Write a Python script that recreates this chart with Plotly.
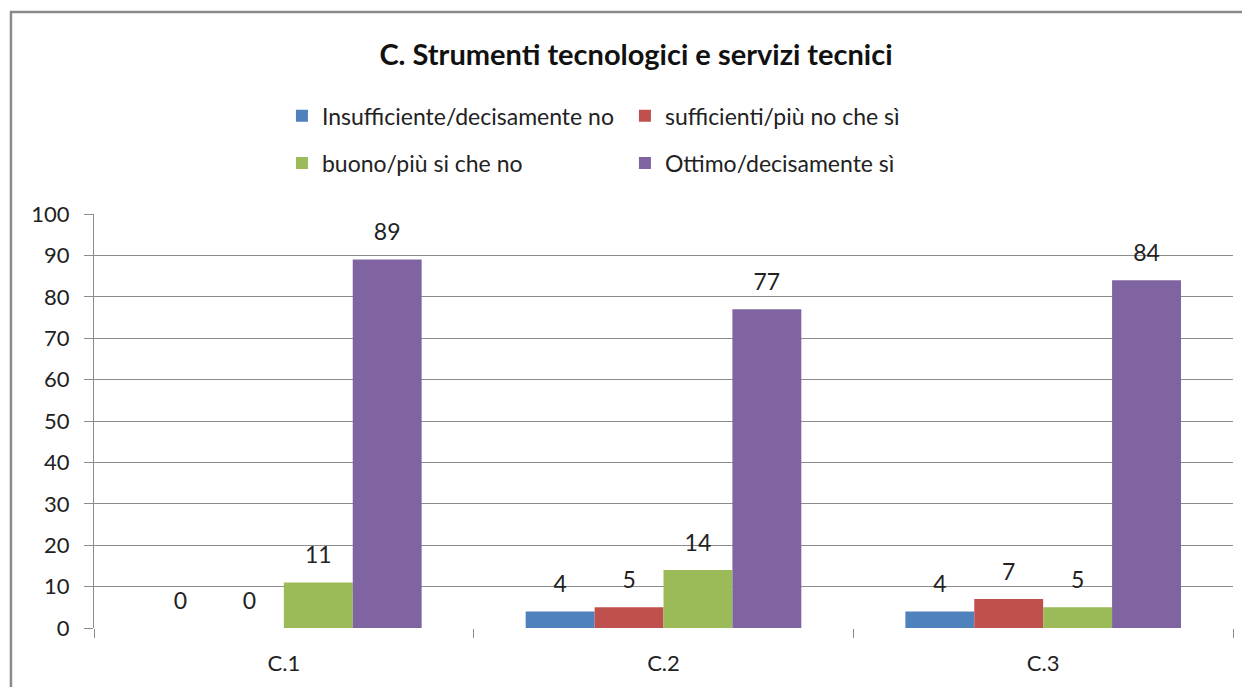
import plotly.graph_objects as go

CATEGORIES = ['C.1', 'C.2', 'C.3']
SERIES_NAMES = ['Insufficiente/decisamente no', 'sufficienti/più no che sì',
                'buono/più si che no', 'Ottimo/decisamente sì']
INSUFFICIENTE = [0, 4, 4]
SUFFICIENTI = [0, 5, 7]
BUONO = [11, 14, 5]
OTTIMO = [89, 77, 84]
SERIES_VALUES = [INSUFFICIENTE, SUFFICIENTI, BUONO, OTTIMO]
COLORS = ['#4F81BD', '#C0504D', '#9BBB59', '#8064A2']
LEGEND_IDS = ['legend', 'legend', 'legend2', 'legend2']

FONT = 'Lato, Carlito, Calibri, sans-serif'
GRID_COLOR = '#8c8c8c'
BAR_GAP = 0.274
PAGE_OFFSET = 8  # the page body adds 8px around the figure

fig = go.Figure()

for i, (name, vals) in enumerate(zip(SERIES_NAMES, SERIES_VALUES)):
    fig.add_trace(go.Bar(
        x=CATEGORIES, y=vals, name=name,
        marker=dict(color=COLORS[i], line=dict(width=0)),
        offsetgroup=str(i), legend=LEGEND_IDS[i],
    ))

# data labels, grouped like the bars
for i, vals in enumerate(SERIES_VALUES):
    fig.add_trace(go.Scatter(
        x=CATEGORIES, y=vals, mode='markers+text',
        text=[str(v) for v in vals], textposition='top center',
        textfont=dict(family=FONT, size=23, color='#222222'),
        marker=dict(size=20, opacity=0),
        offsetgroup=str(i), showlegend=False, hoverinfo='skip',
        cliponaxis=False,
    ))

# outer chart border (runs off the right and bottom of the picture)
fig.add_shape(type='rect', xref='paper', yref='paper',
              x0=-0.0729, x1=1.03, y0=-0.2, y1=1.488,
              line=dict(color='#8a8a8a', width=2.5), fillcolor='rgba(0,0,0,0)',
              layer='below')

legend_common = dict(orientation='h', x=0.165, xanchor='left', yanchor='middle',
                     entrywidth=298, entrywidthmode='pixels',
                     font=dict(size=23, family=FONT, color='#222222'),
                     bgcolor='rgba(0,0,0,0)', traceorder='normal')

fig.update_layout(
    width=1250, height=687,
    paper_bgcolor='white', plot_bgcolor='white',
    barmode='group', bargap=BAR_GAP, bargroupgap=0,
    scattermode='group', scattergap=BAR_GAP,
    margin=dict(l=94 - PAGE_OFFSET, r=17 + PAGE_OFFSET,
                t=214 - PAGE_OFFSET, b=59 + PAGE_OFFSET),
    font=dict(family=FONT, color='#222222'),
    title=dict(text='<b>C. Strumenti tecnologici e servizi tecnici</b>',
               x=(636 - PAGE_OFFSET) / 1250, xanchor='center',
               y=1 - (55 - PAGE_OFFSET) / 687, yanchor='middle',
               xref='container', yref='container', font=dict(size=29, color='#111111')),
    legend=dict(legend_common, y=1.237),
    legend2=dict(legend_common, y=1.123),
    xaxis=dict(range=[-0.5, 2.5], showgrid=False, showline=False, zeroline=False,
               ticks='outside', tickson='boundaries', ticklen=9, tickcolor=GRID_COLOR,
               tickfont=dict(size=22, family=FONT, color='#222222'),
               ticklabelstandoff=20, automargin=False),
    yaxis=dict(range=[0, 100], dtick=10, showgrid=True, gridcolor=GRID_COLOR, gridwidth=1,
               showline=True, linecolor=GRID_COLOR, linewidth=1, zeroline=False,
               ticks='outside', ticklen=9, tickcolor=GRID_COLOR,
               tickfont=dict(size=22, family=FONT, color='#222222'),
               ticklabelstandoff=10, automargin=False),
)

fig.write_html('out.html')
